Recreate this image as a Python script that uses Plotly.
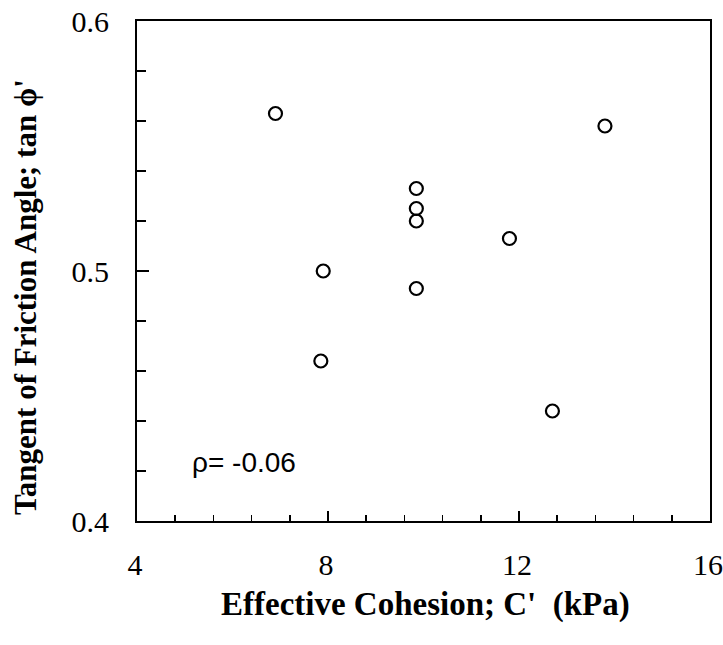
import plotly.graph_objects as go

cohesion = [6.9, 13.8, 7.9, 9.85, 9.85, 9.85, 9.85, 11.8, 7.85, 12.7]
tan_phi = [0.563, 0.558, 0.500, 0.533, 0.525, 0.520, 0.493, 0.513, 0.464, 0.444]
x_ticks = [4, 8, 12, 16]
y_ticks = [0.4, 0.5, 0.6]
rho_label = "ρ= -0.06"

fig = go.Figure()
fig.add_trace(go.Scatter(
    x=cohesion, y=tan_phi, mode="markers",
    marker=dict(symbol="circle-open", size=13, color="black", line=dict(width=2.2, color="black")),
    showlegend=False, hoverinfo="skip"))

fig.add_annotation(x=5.1, y=0.4235, xref="x", yref="y", text=rho_label, showarrow=False,
                   xanchor="left", yanchor="middle",
                   font=dict(family="Liberation Sans", size=28, color="black"))

serif = "Liberation Serif"
fig.add_annotation(x=0.503, y=0, xref="paper", yref="paper", yshift=-83,
                   text="<b>Effective Cohesion; C'  (kPa)</b>", showarrow=False,
                   xanchor="center", yanchor="middle",
                   font=dict(family=serif, size=33, color="black"))
fig.add_annotation(x=0, y=0.448, xref="paper", yref="paper", xshift=-112,
                   text="<b>Tangent of Friction Angle; tan ϕ'</b>", showarrow=False,
                   textangle=-90, xanchor="center", yanchor="middle",
                   font=dict(family=serif, size=31, color="black"))

fig.update_layout(
    width=723, height=645,
    margin=dict(l=137, r=13, t=21, b=124),
    plot_bgcolor="white", paper_bgcolor="white",
    xaxis=dict(range=[4, 16], tickvals=x_ticks, ticktext=[str(v) for v in x_ticks],
               ticks="inside", ticklen=10, tickwidth=2, tickcolor="black",
               minor=dict(dtick=0.8, tick0=4, ticks="inside", ticklen=6, tickwidth=1.5, tickcolor="black"),
               showline=True, linewidth=2, linecolor="black", mirror=True,
               showgrid=False, zeroline=False, automargin=False, ticklabeloverflow="allow",
               tickfont=dict(family=serif, size=30, color="black"), ticklabelstandoff=16,
               ticklabelshift=-2),
    yaxis=dict(range=[0.4, 0.6], tickvals=y_ticks, ticktext=["0.4", "0.5", "0.6"],
               ticks="inside", ticklen=12, tickwidth=2, tickcolor="black",
               minor=dict(dtick=0.02, tick0=0.4, ticks="inside", ticklen=9, tickwidth=1.5, tickcolor="black"),
               showline=True, linewidth=2, linecolor="black", mirror=True,
               showgrid=False, zeroline=False, automargin=False, ticklabeloverflow="allow",
               tickfont=dict(family=serif, size=30, color="black"), ticklabelstandoff=20),
)
fig.write_html("out.html", config={"displayModeBar": False, "staticPlot": True},
               post_script="document.body.style.margin='0';document.body.style.overflow='hidden';")
